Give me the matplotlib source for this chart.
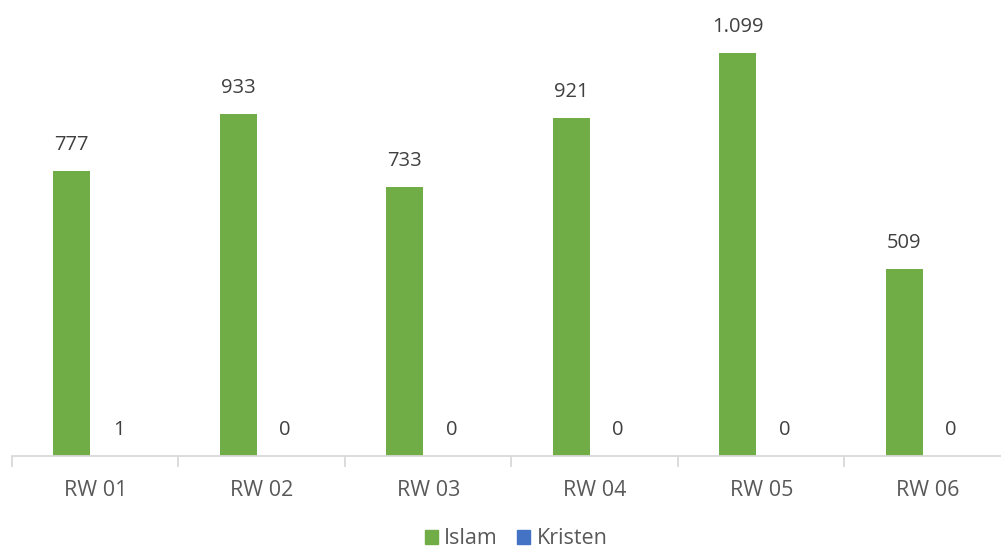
import matplotlib.pyplot as plt
import numpy as np
from matplotlib.patches import Patch

# data
categories = ["RW 01", "RW 02", "RW 03", "RW 04", "RW 05", "RW 06"]
islam = [777, 933, 733, 921, 1099, 509]
kristen = [1, 0, 0, 0, 0, 0]

GREEN = "#70AD47"
BLUE = "#4472C4"

plt.rcParams['font.family'] = ['Open Sans', 'DejaVu Sans']

W, H = 1001, 549
fig = plt.figure(figsize=(W / 100, H / 100), dpi=100)
ax = fig.add_axes([12 / W, (H - 456) / H, 999 / W, 440 / H])

x = np.arange(len(categories))
bw = 0.222
off = 0.141
b1 = ax.bar(x - off, islam, bw, color=GREEN)
b2 = ax.bar(x + off, kristen, bw, color=BLUE)
# make the tiny non-zero bars visible as a thin line
for rect, v in zip(b2, kristen):
    if v > 0:
        rect.set_edgecolor(BLUE)
        rect.set_linewidth(0.6)

def fmt(v):
    return "{:,}".format(v).replace(",", ".")

for bars, vals in ((b1, islam), (b2, kristen)):
    for rect, v in zip(bars, vals):
        ax.annotate(fmt(v), (rect.get_x() + rect.get_width() / 2, v),
                    xytext=(0, 16), textcoords='offset pixels',
                    ha='center', va='bottom', fontsize=14.5, color="#404040")

ax.set_xlim(-0.5, len(categories) - 0.5)
ax.set_ylim(0, 1200)
ax.set_yticks([])
for s in ("top", "right", "left"):
    ax.spines[s].set_visible(False)
ax.spines["bottom"].set_color("#D9D9D9")
ax.spines["bottom"].set_linewidth(1.3)

ax.set_xticks(x)
ax.set_xticklabels(categories, fontsize=15.5, color="#595959")
ax.tick_params(axis='x', which='major', length=0, pad=17)
ax.set_xticks(np.arange(-0.5, len(categories)), minor=True)
ax.tick_params(axis='x', which='minor', length=8, width=1.3, color="#D9D9D9")

handles = [Patch(color=GREEN, label="Islam"), Patch(color=BLUE, label="Kristen")]
leg = fig.legend(handles=handles, loc='center', bbox_to_anchor=(516 / W, 1 - 539 / H),
                 ncol=2, frameon=False, fontsize=15.5, handlelength=0.6,
                 handleheight=0.6, handletextpad=0.3, columnspacing=0.9,
                 borderpad=0.1)
for t in leg.get_texts():
    t.set_color("#595959")

fig.savefig("out.png", dpi=100)
